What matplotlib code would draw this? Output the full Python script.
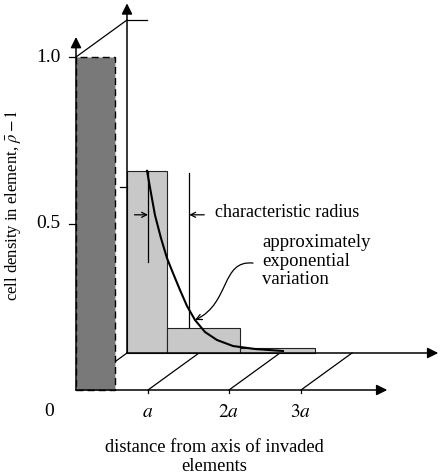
import matplotlib
matplotlib.use("Agg")
import matplotlib.pyplot as plt
import matplotlib.transforms as mtransforms
from matplotlib.patches import FancyArrowPatch
from matplotlib.path import Path
import numpy as np

plt.rcParams.update({
    "font.family": ["Liberation Serif", "DejaVu Serif"],
    "font.size": 13,
    "mathtext.fontset": "stix",
})

# ---- data (x in units of a, y in density) ----
FRONT_HEIGHT = 1.0          # invaded element
FRONT_WIDTH = 0.52
BACK_EDGES = [0.0, 0.53, 1.51, 2.51]
BACK_HEIGHTS = [0.547, 0.075, 0.015]
CURVE_X = [0.267, 0.32, 0.373, 0.453, 0.533, 0.613, 0.707, 0.80, 0.907,
           1.04, 1.20, 1.413, 1.707, 2.08]
CURVE_Y = [0.547, 0.480, 0.414, 0.345, 0.285, 0.240, 0.189, 0.141, 0.099,
           0.063, 0.039, 0.021, 0.012, 0.006]
YTICKS = [0.5, 1.0]
YTICK_LABELS = ["0.5", "1.0"]
XTICKS = [0.96, 2.04, 3.0]
XTICK_LABELS = ["$a$", "$2a$", "$3a$"]
RADIUS_X = [0.28, 0.83]

DARK = "#797979"
LIGHT = "#c8c8c8"
PX_X, PX_Y = 75.0, 333.0     # pixels per unit

fig = plt.figure(figsize=(4.41, 4.76), dpi=100)
ax = fig.add_axes([0, 0, 1, 1])
ax.set_xlim(-76 / PX_X, 365 / PX_X)
ax.set_ylim(-86 / PX_Y, 390 / PX_Y)
ax.axis("off")

# back plane is the front plane shifted right/up
back = ax.transData + mtransforms.ScaledTranslation(0.51, 0.37, fig.dpi_scale_trans)

arrow_kw = dict(arrowstyle="-|>", color="black", lw=1.1, mutation_scale=16,
                shrinkA=0, shrinkB=0)
x_end, y_end = 4.15, 1.06

# back axes
ax.annotate("", xy=(x_end, 0), xytext=(0, 0), xycoords=back, textcoords=back,
            arrowprops=arrow_kw)
ax.annotate("", xy=(0, 1.05), xytext=(0, 0), xycoords=back, textcoords=back,
            arrowprops=arrow_kw)
ax.plot([0, 0.27], [1.0, 1.0], color="black", lw=0.9, transform=back)
ax.plot([-0.09, 0], [0.5, 0.5], color="black", lw=0.9, transform=back)

# back bars
ax.bar(BACK_EDGES[:-1], BACK_HEIGHTS, width=np.diff(BACK_EDGES), align="edge",
       color=LIGHT, edgecolor="#222222", lw=0.8, transform=back, zorder=1)
ax.plot(CURVE_X, CURVE_Y, color="black", lw=1.5, transform=back, zorder=4,
        solid_joinstyle="round")

# characteristic radius markers
ax.plot([RADIUS_X[0]] * 2, [0.547, 0.273], color="black", lw=0.9, transform=back, zorder=4)
ax.plot([RADIUS_X[1]] * 2, [0.54, 0.078], color="black", lw=0.9, transform=back, zorder=4)
small = dict(arrowstyle="->", color="black", lw=0.9, mutation_scale=9,
             shrinkA=0, shrinkB=0)
ax.annotate("", xy=(RADIUS_X[0], 0.415), xytext=(0.1, 0.415),
            xycoords=back, textcoords=back, arrowprops=small)
ax.annotate("", xy=(RADIUS_X[1], 0.415), xytext=(1.03, 0.415),
            xycoords=back, textcoords=back, arrowprops=small)
ax.text(1.17, 0.423, "characteristic radius", transform=back, ha="left",
        va="center", fontsize=13)
ax.text(1.8, 0.275, "approximately\nexponential\nvariation", transform=back,
        ha="left", va="center", fontsize=13.5, linespacing=1.12)

# curved pointer to the curve
verts = [(1.68, 0.27), (1.25, 0.28), (1.38, 0.15), (0.907, 0.099)]
curve_path = Path(verts, [Path.MOVETO, Path.CURVE4, Path.CURVE4, Path.CURVE4])
curve_path = back.transform_path(curve_path)
ax.add_patch(FancyArrowPatch(path=curve_path, arrowstyle="->", color="black",
                             lw=0.9, mutation_scale=10, transform=None, zorder=5))

# diagonal links between front and back planes
for xt in [0] + XTICKS:
    p0 = ax.transData.transform((xt, 0))
    p1 = back.transform((xt, 0))
    ax.add_line(plt.Line2D([p0[0], p1[0]], [p0[1], p1[1]], color="black",
                           lw=0.9, transform=None, zorder=0.5))
p0 = ax.transData.transform((0, 1.0))
p1 = back.transform((0, 1.0))
ax.add_line(plt.Line2D([p0[0], p1[0]], [p0[1], p1[1]], color="black", lw=0.9,
                       transform=None, zorder=6))

# front bar (invaded element)
ax.bar([0], [FRONT_HEIGHT], width=FRONT_WIDTH, align="edge", color=DARK,
       edgecolor="black", lw=1.0, linestyle=(0, (5, 3)), zorder=3)

# front axes
ax.annotate("", xy=(x_end, 0), xytext=(0, 0), arrowprops=arrow_kw, zorder=6)
ax.annotate("", xy=(0, y_end), xytext=(0, 0), arrowprops=arrow_kw, zorder=6)
for yt, lab in zip(YTICKS, YTICK_LABELS):
    ax.plot([-0.09, 0], [yt, yt], color="black", lw=0.9)
    ax.text(-0.21, yt, lab, ha="right", va="center", fontsize=14)
for xt, lab in zip(XTICKS, XTICK_LABELS):
    ax.plot([xt, xt], [0, -0.01], color="black", lw=0.9)
    ax.text(xt, -0.069, lab, ha="center", va="center", fontsize=14)
ax.text(-0.36, -0.066, "0", ha="center", va="center", fontsize=14)

ax.text(-0.84, 0.556, r"cell density in element, $\bar{\rho} - 1$", rotation=90,
        ha="center", va="center", fontsize=12)
ax.text(1.84, -0.201, "distance from axis of invaded\nelements", ha="center",
        va="center", fontsize=13.3, linespacing=1.1)

fig.savefig("out.png", dpi=100)
